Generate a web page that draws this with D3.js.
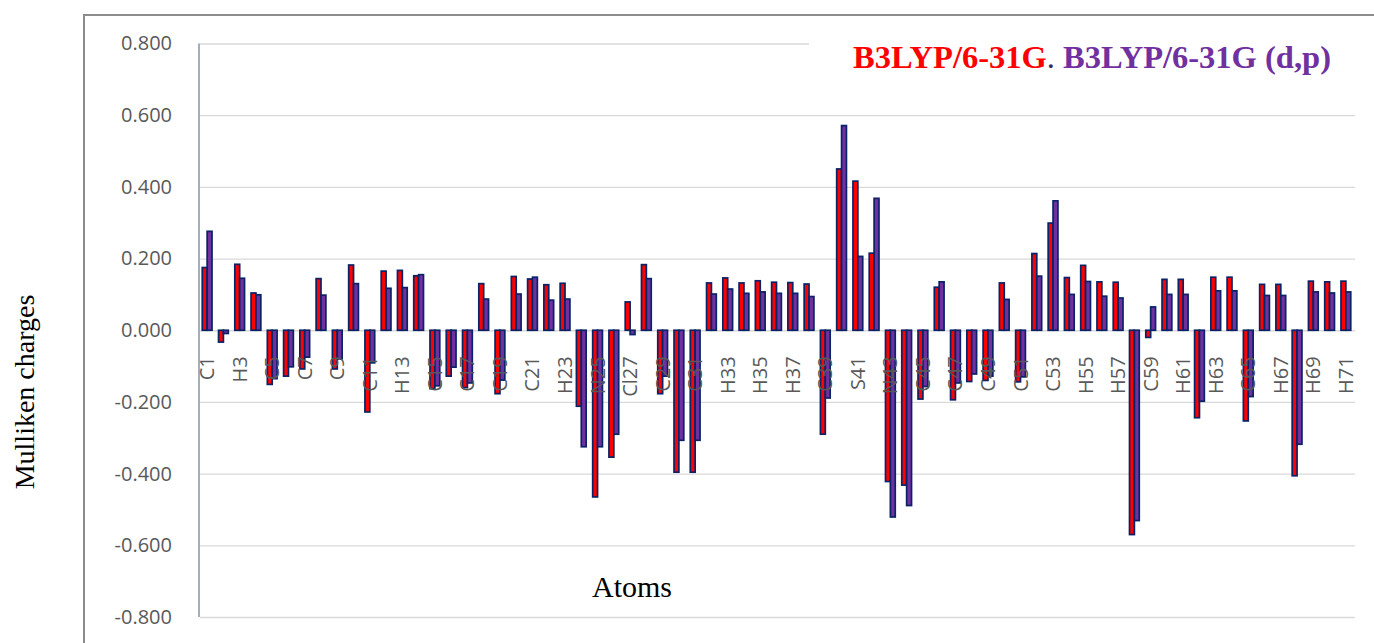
<!DOCTYPE html>
<html>
<head>
<meta charset="utf-8">
<script src="https://cdn.jsdelivr.net/npm/d3@7"></script>
<style>
  body { margin: 0; background: #fff; }
</style>
</head>
<body>
<div id="chart"></div>
<script>
// atoms on the x axis
var atoms = ["C1","C2","H3","H4","C5","C6","C7","H8","C9","H10",
  "C11","H12","H13","H14","C15","C16","C17","H18","C19","H20",
  "C21","H22","H23","N24","N25","N26","Cl27","H28","C29","C30",
  "C31","H32","H33","H34","H35","H36","H37","H38","C39","C40",
  "S41","C42","N43","N44","C45","H46","C47","C48","C49","H50",
  "C51","C52","C53","H54","H55","H56","H57","O58","C59","H60",
  "H61","C62","H63","H64","C65","H66","H67","C68","H69","H70","H71"];

// B3LYP/6-31G
var b3lyp631g = [0.175,-0.033,0.184,0.104,-0.151,-0.128,-0.108,0.144,-0.108,0.182,
  -0.228,0.165,0.167,0.152,-0.163,-0.128,-0.160,0.130,-0.177,0.150,
  0.143,0.127,0.131,-0.212,-0.465,-0.354,0.079,0.183,-0.177,-0.396,
  -0.396,0.132,0.146,0.132,0.138,0.134,0.133,0.129,-0.290,0.450,
  0.416,0.215,-0.422,-0.432,-0.192,0.120,-0.194,-0.143,-0.140,0.132,
  -0.144,0.214,0.299,0.147,0.181,0.135,0.134,-0.570,-0.020,0.142,
  0.142,-0.244,0.148,0.148,-0.253,0.128,0.128,-0.406,0.137,0.135,0.137];

// B3LYP/6-31G (d,p)
var b3lyp631gdp = [0.276,-0.009,0.145,0.099,-0.135,-0.102,-0.075,0.098,-0.080,0.130,
  -0.091,0.117,0.119,0.155,-0.155,-0.103,-0.147,0.087,-0.139,0.101,
  0.148,0.084,0.087,-0.325,-0.325,-0.290,-0.012,0.144,-0.128,-0.307,
  -0.307,0.101,0.115,0.103,0.107,0.103,0.103,0.094,-0.189,0.571,
  0.206,0.368,-0.521,-0.489,-0.157,0.135,-0.147,-0.122,-0.128,0.086,
  -0.130,0.151,0.361,0.100,0.136,0.095,0.090,-0.531,0.065,0.100,
  0.100,-0.198,0.110,0.110,-0.185,0.097,0.097,-0.318,0.107,0.104,0.107];

var seriesNames = ["B3LYP/6-31G", "B3LYP/6-31G (d,p)"];
var yTicks = [0.8, 0.6, 0.4, 0.2, 0, -0.2, -0.4, -0.6, -0.8];

var width = 1374, height = 643;
var margin = { top: 43.5, right: 19, bottom: 26, left: 200 };
var chartWidth = width - margin.left - margin.right;
var chartHeight = height - margin.top - margin.bottom;

var svg = d3.select("#chart").append("svg")
    .attr("width", width)
    .attr("height", height);

// outer chart frame (only left and top edges visible)
svg.append("path")
    .attr("d", "M84,643V15H1374")
    .attr("fill", "none")
    .attr("stroke", "#8c8c8c")
    .attr("stroke-width", 2);

var chartGroup = svg.append("g")
    .attr("transform", `translate(${margin.left}, ${margin.top})`);

var x0 = d3.scaleBand()
    .domain(atoms)
    .range([0, chartWidth])
    .paddingInner(0.40)
    .paddingOuter(0.20);

var x1 = d3.scaleBand()
    .domain([0, 1])
    .range([0, x0.bandwidth()]);

var y = d3.scaleLinear()
    .domain([-0.8, 0.8])
    .range([chartHeight, 0]);

// gridlines
chartGroup.append("g")
    .call(d3.axisLeft(y).tickValues(yTicks).tickSize(-chartWidth).tickFormat(""))
    .call(g => g.select(".domain").remove())
    .call(g => g.selectAll("line").attr("stroke", "#d9d9d9").attr("stroke-width", 1.3));

// y tick labels (plain hyphen for the minus sign)
var fmt = d3.format(".3f");
chartGroup.append("g")
    .attr("transform", "translate(-25,0)")
    .call(d3.axisLeft(y).tickValues(yTicks).tickSize(0).tickFormat(d => fmt(d).replace("\u2212", "-")))
    .call(g => g.select(".domain").remove())
    .call(g => g.selectAll("text")
        .attr("fill", "#595959")
        .style("font-family", "'Open Sans', sans-serif")
        .style("font-size", "20px"));

// bars
var rows = atoms.map((a, i) => ({ atom: a, values: [b3lyp631g[i], b3lyp631gdp[i]] }));
var fills = ["#ff0000", "#7030a0"];

var groups = chartGroup.selectAll(".atom")
    .data(rows)
    .enter()
    .append("g")
    .attr("transform", d => `translate(${x0(d.atom) - 1}, 0)`);

groups.selectAll("rect")
    .data(d => d.values.map((v, k) => ({ k: k, v: v })))
    .enter()
    .append("rect")
    .attr("x", d => x1(d.k))
    .attr("width", x1.bandwidth())
    .attr("y", d => y(Math.max(0, d.v)))
    .attr("height", d => Math.abs(y(d.v) - y(0)))
    .attr("fill", d => fills[d.k])
    .attr("stroke", "#0a2266")
    .attr("stroke-width", 1.7);

// left axis line
chartGroup.append("line")
    .attr("x1", -1).attr("x2", -1)
    .attr("y1", 0).attr("y2", chartHeight)
    .attr("stroke", "#8493a8")
    .attr("stroke-width", 1.5);

// category labels, every second atom, rotated just under zero
chartGroup.append("g")
    .selectAll("text")
    .data(atoms.filter((a, i) => i % 2 == 0))
    .enter()
    .append("text")
    .attr("transform", d => `translate(${x0(d) + x0.bandwidth() / 2 + 6}, ${y(0) + 26}) rotate(-90)`)
    .attr("text-anchor", "end")
    .attr("fill", "#595959")
    .style("font-family", "'Open Sans', sans-serif")
    .style("font-size", "20px")
    .text(d => d);

// legend (white box hides the top gridline)
svg.append("rect")
    .attr("x", 809).attr("y", 34)
    .attr("width", 548).attr("height", 46)
    .attr("fill", "#fff");

var legend = svg.append("text")
    .attr("x", 853)
    .attr("y", 68)
    .style("font-family", "'Liberation Serif', 'Times New Roman', serif")
    .style("font-weight", "bold")
    .style("font-size", "32.5px");
legend.append("tspan").attr("fill", "#ff0000").text(seriesNames[0]);
legend.append("tspan").attr("fill", "#3a2a5a").style("font-weight", "normal").text(". ");
legend.append("tspan").attr("fill", "#7030a0").text(seriesNames[1]);

// axis titles
svg.append("text")
    .attr("transform", "translate(34, 392) rotate(-90)")
    .attr("text-anchor", "middle")
    .style("font-family", "'Liberation Serif', 'Times New Roman', serif")
    .style("font-size", "28px")
    .text("Mulliken charges");

svg.append("text")
    .attr("x", 632)
    .attr("y", 597)
    .attr("text-anchor", "middle")
    .style("font-family", "'Liberation Serif', 'Times New Roman', serif")
    .style("font-size", "30px")
    .text("Atoms");
</script>
</body>
</html>
